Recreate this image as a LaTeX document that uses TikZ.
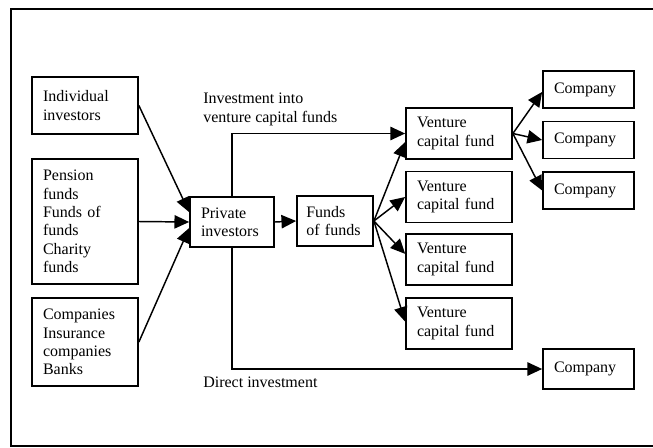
\documentclass[tikz,border=0pt]{standalone}
\usepackage{fontspec}
\setmainfont{Liberation Serif}
\usetikzlibrary{arrows.meta}

\begin{document}
\begin{tikzpicture}[x=0.75pt,y=-0.75pt,
  every node/.style={font=\fontsize{12}{13.8}\selectfont},
  box/.style={draw,line width=1.3pt,align=left,inner xsep=8.25pt,inner ysep=0pt,text width=#1},
  flow/.style={-{Triangle[length=11pt,width=10pt]},line width=1.1pt}]
\useasboundingbox (0,0) rectangle (653,447);
% frame, open on the right
\draw[line width=1.2pt] (654,9) -- (11,9) -- (11,446) -- (654,446);
% investors
\node[box=63pt,minimum height=42.75pt] (indiv) at (85,105.5) {Individual\\investors};
\node[box=63pt,minimum height=93.75pt] (pension) at (85,221.5) {Pension\\funds\\Funds of\\funds\\Charity\\funds};
\node[box=63pt,minimum height=66pt] (corp) at (85,342) {Companies\\Insurance\\companies\\Banks};
\node[box=46.5pt,minimum height=37.5pt] (priv) at (232,222) {Private\\investors};
\node[box=43pt,inner xsep=7pt,minimum height=37.5pt] (fof) at (335,221) {Funds\\of funds};
% funds and companies
\foreach \i/\y in {1/133.5,2/197,3/259.5,4/323.5}
  \node[box=63pt,minimum height=38.25pt] (vcf\i) at (459,\y) {Venture\\capital fund};
\foreach \i/\y in {1/89.5,2/140,3/190.5}
  \node[box=51.75pt,minimum height=27.75pt] (co\i) at (588.5,\y) {Company};
\node[box=51.75pt,minimum height=30pt] (co4) at (588.5,369) {Company};
% flows
\draw[flow] (indiv.east) -- (priv.167);
\draw[flow] (pension.east) -- (priv.west);
\draw[flow] (corp.east) -- (priv.188);
\draw[flow] (priv.east) -- (fof.west);
\draw[flow] (priv.north) |- (vcf1.west);
\draw[flow] (priv.south) |- (co4.west);
\foreach \t in {vcf1.189,vcf2.west,vcf3.174,vcf4.178}
  \draw[flow] (fof.east) -- (\t);
\foreach \t in {co1.183,co2.west,co3.west}
  \draw[flow] (vcf1.east) -- (\t);
\node[anchor=north west,align=left,inner sep=0pt] (invlab) at (203,93) {Investment into\\venture capital funds};
\node[anchor=north west,inner sep=0pt] (dirlab) at (203,377) {Direct investment};
\end{tikzpicture}
\end{document}
